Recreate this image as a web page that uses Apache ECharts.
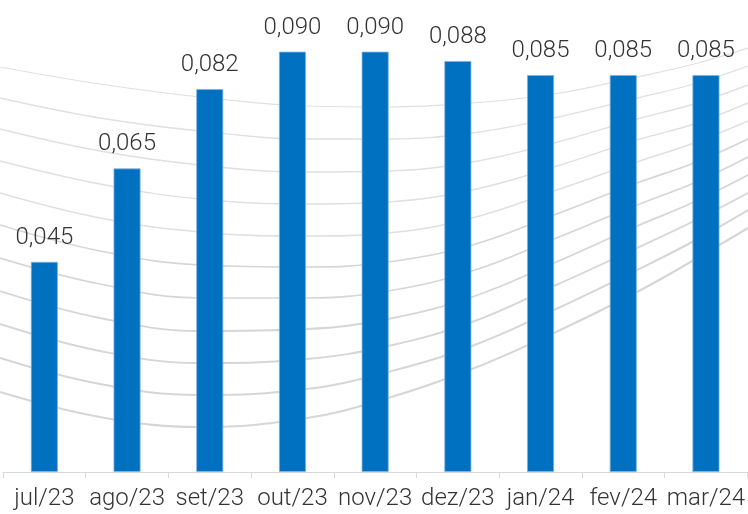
<!DOCTYPE html>
<html>
<head>
<meta charset="utf-8">
<title>Taxa mensal</title>
<script src="https://cdn.jsdelivr.net/npm/echarts@6/dist/echarts.min.js"></script>
<style>
  html, body { margin: 0; padding: 0; background: #ffffff; }
  #chart { width: 748px; height: 514px; }
</style>
</head>
<body>
<div id="chart"></div>
<script>
// Months and monthly values
const months = ['jul/23', 'ago/23', 'set/23', 'out/23', 'nov/23', 'dez/23', 'jan/24', 'fev/24', 'mar/24'];
const values = [0.045, 0.065, 0.082, 0.090, 0.090, 0.088, 0.085, 0.085, 0.085];

// Decorative background swoosh: knot positions (canvas pixels) shared by every curve
const swooshX = [0, 100, 200, 307, 388, 472, 554, 637, 694, 748];
const swoosh0  = [67, 84, 97, 106, 107, 103, 94, 77, 64, 48];
const swoosh1  = [98, 118, 131, 139, 139, 133, 118, 98, 84, 66];
const swoosh2  = [129, 151, 165, 172, 171, 162, 143, 119, 104, 85];
const swoosh3  = [161, 184, 199, 204, 202, 190, 167, 140, 124, 103];
const swoosh4  = [193, 218, 232, 236, 233, 218, 191, 162, 143, 121];
const swoosh5  = [225, 251, 265, 267, 262, 245, 215, 183, 163, 139];
const swoosh6  = [258, 284, 298, 298, 291, 271, 239, 205, 183, 157];
const swoosh7  = [291, 318, 331, 329, 319, 297, 263, 226, 202, 175];
const swoosh8  = [324, 351, 363, 359, 346, 322, 286, 248, 221, 193];
const swoosh9  = [358, 384, 395, 389, 372, 346, 310, 270, 241, 210];
const swoosh10 = [392, 417, 427, 418, 398, 369, 333, 292, 260, 228];
const swooshes = [swoosh0, swoosh1, swoosh2, swoosh3, swoosh4, swoosh5,
                  swoosh6, swoosh7, swoosh8, swoosh9, swoosh10];

const fmt = v => v.toFixed(3).replace('.', ',');
const textColor = '#333333';
const font = 'Roboto, "Liberation Sans", sans-serif';

const swooshSeries = swooshes.map((ys, k) => ({
  type: 'line',
  xAxisIndex: 1,
  yAxisIndex: 1,
  data: ys.map((y, i) => [swooshX[i], y]),
  smooth: 0.4,
  showSymbol: false,
  silent: true,
  z: 1,
  lineStyle: {
    color: k < 5 ? '#e0e0e0' : '#d6d6d6',
    width: 1.2 + k * 0.09
  },
  emphasis: { disabled: true }
}));

const chart = echarts.init(document.getElementById('chart'), null, { renderer: 'canvas' });
chart.setOption({
  animation: false,
  backgroundColor: '#ffffff',
  grid: [
    { left: 3, top: 5, width: 747, height: 467, containLabel: false },
    { left: 0, top: 0, width: 748, height: 514, containLabel: false }
  ],
  xAxis: [
    {
      type: 'category',
      gridIndex: 0,
      data: months,
      boundaryGap: true,
      axisLine: { show: true, lineStyle: { color: '#d9d9d9', width: 1 } },
      axisTick: { show: true, length: 6, alignWithLabel: false, lineStyle: { color: '#d9d9d9' } },
      axisLabel: { color: textColor, fontSize: 24, fontFamily: font, fontWeight: 300, margin: 15, interval: 0 },
      splitLine: { show: false }
    },
    { type: 'value', gridIndex: 1, min: 0, max: 748, show: false }
  ],
  yAxis: [
    { type: 'value', gridIndex: 0, min: 0, max: 0.1, show: false, splitLine: { show: false } },
    { type: 'value', gridIndex: 1, min: 0, max: 514, inverse: true, show: false }
  ],
  series: [
    ...swooshSeries,
    {
      type: 'bar',
      xAxisIndex: 0,
      yAxisIndex: 0,
      data: values,
      barWidth: 27,
      z: 3,
      itemStyle: { color: '#0070c0', borderColor: '#7fb2e0', borderWidth: 0.8 },
      label: {
        show: true,
        position: 'top',
        distance: 12,
        color: textColor,
        fontSize: 24,
        fontFamily: font,
        fontWeight: 300,
        formatter: p => fmt(p.value)
      }
    }
  ]
});
</script>
</body>
</html>
